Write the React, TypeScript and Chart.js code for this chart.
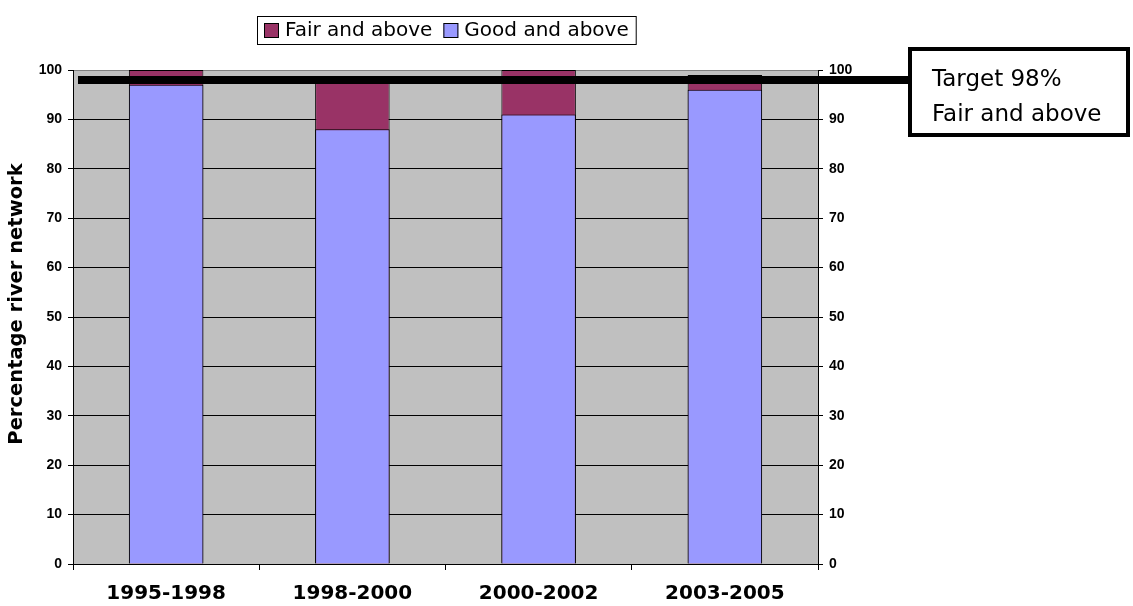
import React, { useEffect, useRef } from "react";
import { Chart, registerables } from "chart.js";

Chart.register(...registerables);

const categories = ["1995-1998", "1998-2000", "2000-2002", "2003-2005"];
const seriesLabels = ["Fair and above", "Good and above"];
const fairAndAbove = [100, 98, 100, 99];
const goodAndAbove = [97, 88, 91, 96];
const seriesColors = ["#993366", "#9999FF"];
const yMin = 0;
const yMax = 100;
const yStep = 10;
const targetValue = 98;
const targetText = ["Target 98%", "Fair and above"];
const yAxisTitle = "Percentage river network";

const PLOT_BG = "#C0C0C0";

const decorPlugin = {
  id: "decor",
  beforeDraw(chart: any) {
    const { ctx, chartArea } = chart;
    ctx.save();
    ctx.fillStyle = "#ffffff";
    ctx.fillRect(0, 0, chart.width, chart.height);
    ctx.fillStyle = PLOT_BG;
    ctx.fillRect(chartArea.left, chartArea.top, chartArea.right - chartArea.left, chartArea.bottom - chartArea.top);
    ctx.restore();
  },
  afterDraw(chart: any) {
    const { ctx, chartArea, scales } = chart;
    ctx.save();
    // y-axis title
    ctx.fillStyle = "#000";
    ctx.font = "bold 19.5px 'DejaVu Sans'";
    ctx.textAlign = "center";
    ctx.textBaseline = "middle";
    ctx.translate(17, 304);
    ctx.rotate(-Math.PI / 2);
    ctx.fillText(yAxisTitle, 0, 0);
    ctx.restore();

    ctx.save();
    const y = scales.y.getPixelForValue(targetValue);
    const boxLeft = 908;
    const boxRight = 1130;
    const boxTop = 47;
    const boxBottom = 137;
    // target line
    ctx.strokeStyle = "#000";
    ctx.lineWidth = 8;
    ctx.beginPath();
    ctx.moveTo(chartArea.left + 5, y);
    ctx.lineTo(boxLeft + 2, y);
    ctx.stroke();
    // annotation box
    ctx.fillStyle = "#fff";
    ctx.fillRect(boxLeft, boxTop, boxRight - boxLeft, boxBottom - boxTop);
    ctx.lineWidth = 4;
    ctx.strokeRect(boxLeft + 2, boxTop + 2, boxRight - boxLeft - 4, boxBottom - boxTop - 4);
    ctx.fillStyle = "#000";
    ctx.font = "23px 'DejaVu Sans'";
    ctx.textAlign = "left";
    ctx.textBaseline = "alphabetic";
    ctx.fillText(targetText[0], 932, 86);
    ctx.fillText(targetText[1], 932, 121);

    // legend
    const ds = chart.data.datasets;
    ctx.font = "20px 'DejaVu Sans'";
    const sq = 15;
    const gapSq = 6;
    const gapItem = 11;
    const pad = 7;
    const widths = ds.map((d: any) => ctx.measureText(d.label).width);
    let total = pad * 2;
    widths.forEach((w: number, i: number) => {
      total += sq + gapSq + w + (i < widths.length - 1 ? gapItem : 0);
    });
    const cx = (chartArea.left + chartArea.right) / 2 + 1;
    const lx = Math.round(cx - total / 2);
    const ly = 16;
    const lh = 28;
    ctx.lineWidth = 1;
    ctx.strokeStyle = "#000";
    ctx.strokeRect(lx + 0.5, ly + 0.5, total, lh);
    let x = lx + pad;
    ds.forEach((d: any, i: number) => {
      ctx.fillStyle = d.backgroundColor;
      ctx.fillRect(x, ly + 7, sq, sq);
      ctx.strokeRect(x + 0.5, ly + 7.5, sq - 1, sq - 1);
      x += sq + gapSq;
      ctx.fillStyle = "#000";
      ctx.textBaseline = "middle";
      ctx.fillText(d.label, x, ly + lh / 2 + 1);
      x += widths[i] + gapItem;
    });
    ctx.restore();
  },
};

export default function App() {
  const ref = useRef<HTMLCanvasElement | null>(null);
  useEffect(() => {
    if (!ref.current) return;
    const tickFont = { family: "'Liberation Sans'", size: 14, weight: "bold" as const };
    const chart = new Chart(ref.current, {
      type: "bar",
      data: {
        labels: categories,
        datasets: [
          {
            label: seriesLabels[0],
            data: fairAndAbove,
            backgroundColor: seriesColors[0],
            borderColor: "#000",
            borderWidth: 1,
            grouped: false,
            order: 2,
            barPercentage: 0.4,
            categoryPercentage: 1,
            yAxisID: "y",
          } as any,
          {
            label: seriesLabels[1],
            data: goodAndAbove,
            backgroundColor: seriesColors[1],
            borderColor: "#000",
            borderWidth: 1,
            grouped: false,
            order: 1,
            barPercentage: 0.4,
            categoryPercentage: 1,
            yAxisID: "y",
          } as any,
        ],
      },
      options: {
        responsive: false,
        animation: false,
        devicePixelRatio: 1,
        layout: { padding: { top: 70, left: 0, right: 0, bottom: 0 } },
        plugins: {
          legend: { display: false },
          tooltip: { enabled: false },
          title: { display: false },
        },
        scales: {
          x: {
            type: "category",
            offset: true,
            grid: { offset: true, drawOnChartArea: false, color: "#000", tickLength: 6, lineWidth: 1 },
            border: { color: "#000", width: 1 },
            ticks: { color: "#000", font: { family: "'DejaVu Sans'", size: 20, weight: "bold" }, padding: 12, maxRotation: 0 },
            afterFit: (s: any) => { s.height = 42; },
          },
          y: {
            position: "left",
            min: yMin,
            max: yMax,
            grid: {
              color: (c: any) => (c.tick && c.tick.value === yMax ? "#808080" : "#000"),
              tickColor: "#000",
              tickLength: 5,
              lineWidth: 1,
            },
            border: { color: "#000", width: 1 },
            ticks: { stepSize: yStep, color: "#000", font: tickFont, padding: 6 },
            afterFit: (s: any) => { s.width = 73; },
          },
          y2: {
            position: "right",
            min: yMin,
            max: yMax,
            grid: { drawOnChartArea: false, color: "#000", tickLength: 5 },
            border: { color: "#000", width: 1 },
            ticks: { stepSize: yStep, color: "#000", font: tickFont, padding: 6 },
            afterFit: (s: any) => { s.width = 1133 - 818; },
          },
        },
      },
      plugins: [decorPlugin],
    });
    return () => chart.destroy();
  }, []);
  return (
    <div style={{ position: "absolute", left: 0, top: 0, width: 1133, height: 606, background: "#fff" }}>
      <canvas ref={ref} width={1133} height={606} style={{ display: "block" }} />
    </div>
  );
}
